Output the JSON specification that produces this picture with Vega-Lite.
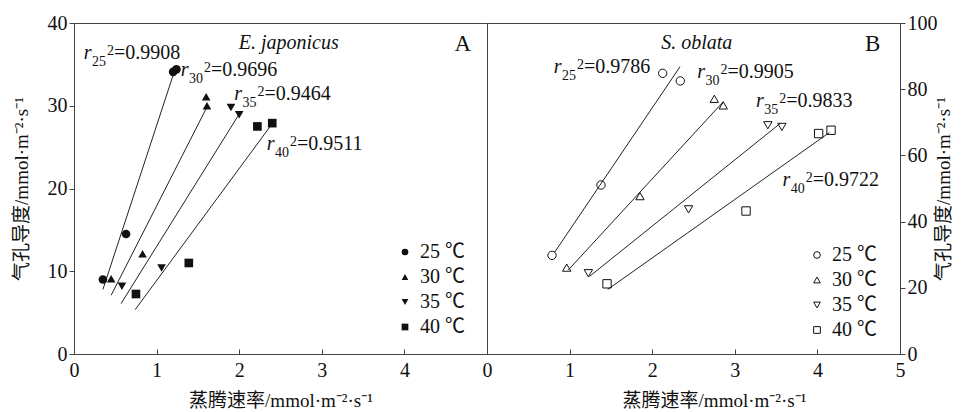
{
  "$schema": "https://vega.github.io/schema/vega-lite/v6.json",
  "padding": {"left": 11, "top": 12, "right": 0, "bottom": 0},
  "spacing": 0,
  "bounds": "flush",
  "datasets": {
    "ptsA": [
      {"t": "25 ℃", "x": 0.35, "y": 9.0}, {"t": "25 ℃", "x": 0.63, "y": 14.5}, {"t": "25 ℃", "x": 1.20, "y": 34.1}, {"t": "25 ℃", "x": 1.24, "y": 34.4},
      {"t": "30 ℃", "x": 0.45, "y": 9.1}, {"t": "30 ℃", "x": 0.83, "y": 12.1}, {"t": "30 ℃", "x": 1.60, "y": 31.1}, {"t": "30 ℃", "x": 1.61, "y": 30.0},
      {"t": "35 ℃", "x": 0.58, "y": 8.2}, {"t": "35 ℃", "x": 1.06, "y": 10.4}, {"t": "35 ℃", "x": 1.90, "y": 29.8}, {"t": "35 ℃", "x": 2.00, "y": 28.9},
      {"t": "40 ℃", "x": 0.75, "y": 7.25}, {"t": "40 ℃", "x": 1.39, "y": 11.0}, {"t": "40 ℃", "x": 2.22, "y": 27.5}, {"t": "40 ℃", "x": 2.40, "y": 27.9}
    ],
    "lnA": [
      {"t": "25 ℃", "x": 0.35, "y": 7.8}, {"t": "25 ℃", "x": 1.21, "y": 34.0},
      {"t": "30 ℃", "x": 0.45, "y": 7.1}, {"t": "30 ℃", "x": 1.61, "y": 29.85},
      {"t": "35 ℃", "x": 0.57, "y": 6.1}, {"t": "35 ℃", "x": 2.0, "y": 29.0},
      {"t": "40 ℃", "x": 0.74, "y": 5.35}, {"t": "40 ℃", "x": 2.39, "y": 27.7}
    ],
    "annA": [
      {"x": 0.212, "y": 35.7, "sub": "25", "val": "=0.9908"},
      {"x": 1.386, "y": 33.6, "sub": "30", "val": "=0.9696"},
      {"x": 2.034, "y": 30.7, "sub": "35", "val": "=0.9464"},
      {"x": 2.427, "y": 24.65, "sub": "40", "val": "=0.9511"}
    ],
    "spA": [{"x": 2.60, "y": 36.86, "txt": "E. japonicus"}],
    "letA": [{"x": 4.706, "y": 36.6, "txt": "A"}],
    "ptsB": [
      {"t": "25 ℃", "x": 0.787, "y": 29.8}, {"t": "25 ℃", "x": 1.38, "y": 51.06}, {"t": "25 ℃", "x": 2.127, "y": 84.8}, {"t": "25 ℃", "x": 2.34, "y": 82.5},
      {"t": "30 ℃", "x": 0.965, "y": 26.1}, {"t": "30 ℃", "x": 1.852, "y": 47.7}, {"t": "30 ℃", "x": 2.752, "y": 77.1}, {"t": "30 ℃", "x": 2.86, "y": 75.1},
      {"t": "35 ℃", "x": 1.227, "y": 24.4}, {"t": "35 ℃", "x": 2.44, "y": 43.7}, {"t": "35 ℃", "x": 3.40, "y": 69.1}, {"t": "35 ℃", "x": 3.57, "y": 68.6},
      {"t": "40 ℃", "x": 1.453, "y": 21.2}, {"t": "40 ℃", "x": 3.136, "y": 43.2}, {"t": "40 ℃", "x": 4.015, "y": 66.6}, {"t": "40 ℃", "x": 4.165, "y": 67.6}
    ],
    "lnB": [
      {"t": "25 ℃", "x": 0.815, "y": 30.6}, {"t": "25 ℃", "x": 2.337, "y": 86.8},
      {"t": "30 ℃", "x": 0.985, "y": 25.4}, {"t": "30 ℃", "x": 2.86, "y": 76.2},
      {"t": "35 ℃", "x": 1.239, "y": 23.4}, {"t": "35 ℃", "x": 3.547, "y": 69.6},
      {"t": "40 ℃", "x": 1.461, "y": 19.5}, {"t": "40 ℃", "x": 4.145, "y": 66.9}
    ],
    "annB": [
      {"x": 0.902, "y": 85.0, "sub": "25", "val": "=0.9786"},
      {"x": 2.64, "y": 83.5, "sub": "30", "val": "=0.9905"},
      {"x": 3.35, "y": 74.6, "sub": "35", "val": "=0.9833"},
      {"x": 3.672, "y": 50.76, "sub": "40", "val": "=0.9722"}
    ],
    "spB": [{"x": 2.54, "y": 92.1, "txt": "S. oblata"}],
    "letB": [{"x": 4.67, "y": 91.5, "txt": "B"}]
  },
  "resolve": {
    "scale": {"x": "independent", "y": "independent", "shape": "independent"},
    "axis": {"x": "independent", "y": "independent"},
    "legend": {"shape": "independent"}
  },
  "hconcat": [
    {
      "width": 413,
      "height": 331,
      "encoding": {
        "x": {"field": "x", "type": "quantitative", "scale": {"domain": [0, 5], "nice": false, "zero": false},
          "axis": {"values": [0, 1, 2, 3, 4], "tickSize": -5, "labelPadding": 11, "title": "蒸腾速率/mmol·m⁻²·s⁻¹", "titlePadding": 11}},
        "y": {"field": "y", "type": "quantitative", "scale": {"domain": [0, 40], "nice": false, "zero": false},
          "axis": {"values": [0, 10, 20, 30, 40], "tickSize": 5, "labelPadding": 2, "title": "气孔导度/mmol·m⁻²·s⁻¹", "titlePadding": 16}}
      },
      "layer": [
        {"data": {"name": "lnA"}, "mark": {"type": "line", "color": "#222", "strokeWidth": 1}, "encoding": {"detail": {"field": "t"}}},
        {"data": {"name": "ptsA"}, "mark": {"type": "point", "filled": true, "color": "#111", "opacity": 1, "size": 75},
          "encoding": {"shape": {"field": "t", "type": "nominal",
            "scale": {"domain": ["25 ℃", "30 ℃", "35 ℃", "40 ℃"], "range": ["circle", "triangle-up", "triangle-down", "square"]},
            "legend": {"title": null, "orient": "none", "legendX": 321, "legendY": 219, "symbolSize": 45, "symbolFillColor": "#111", "symbolStrokeColor": "#111", "labelFontSize": 20, "labelOffset": 5, "rowPadding": 5, "padding": 0}}}},
        {"data": {"name": "annA"}, "mark": {"type": "text", "text": "r", "fontStyle": "italic", "align": "right", "baseline": "alphabetic", "fontSize": 20, "color": "#111"}},
        {"data": {"name": "annA"}, "mark": {"type": "text", "align": "left", "baseline": "alphabetic", "fontSize": 14, "dx": 0.5, "dy": 7, "color": "#111"}, "encoding": {"text": {"field": "sub"}}},
        {"data": {"name": "annA"}, "mark": {"type": "text", "text": "2", "align": "left", "baseline": "alphabetic", "fontSize": 14, "dx": 15.5, "dy": -4, "color": "#111"}},
        {"data": {"name": "annA"}, "mark": {"type": "text", "align": "left", "baseline": "alphabetic", "fontSize": 20, "dx": 22.5, "color": "#111"}, "encoding": {"text": {"field": "val"}}},
        {"data": {"name": "spA"}, "mark": {"type": "text", "fontStyle": "italic", "align": "center", "baseline": "alphabetic", "fontSize": 20, "color": "#111"}, "encoding": {"text": {"field": "txt"}}},
        {"data": {"name": "letA"}, "mark": {"type": "text", "align": "center", "baseline": "alphabetic", "fontSize": 23, "color": "#111"}, "encoding": {"text": {"field": "txt"}}}
      ]
    },
    {
      "width": 413,
      "height": 331,
      "encoding": {
        "x": {"field": "x", "type": "quantitative", "scale": {"domain": [0, 5], "nice": false, "zero": false},
          "axis": {"values": [0, 1, 2, 3, 4, 5], "tickSize": -5, "labelPadding": 11, "title": "蒸腾速率/mmol·m⁻²·s⁻¹", "titlePadding": 11, "titleX": 227}},
        "y": {"field": "y", "type": "quantitative", "scale": {"domain": [0, 100], "nice": false, "zero": false},
          "axis": {"orient": "right", "values": [0, 20, 40, 60, 80, 100], "tickSize": 5, "labelPadding": 2, "title": "气孔导度/mmol·m⁻²·s⁻¹", "titleAngle": 270, "titlePadding": 16}}
      },
      "layer": [
        {"data": {"name": "lnB"}, "mark": {"type": "line", "color": "#222", "strokeWidth": 1}, "encoding": {"detail": {"field": "t"}}},
        {"data": {"name": "ptsB"}, "mark": {"type": "point", "filled": false, "color": "#111", "opacity": 1, "size": 70, "strokeWidth": 1},
          "encoding": {"shape": {"field": "t", "type": "nominal",
            "scale": {"domain": ["25 ℃", "30 ℃", "35 ℃", "40 ℃"], "range": ["circle", "triangle-up", "triangle-down", "square"]},
            "legend": {"title": null, "orient": "none", "legendX": 320, "legendY": 222, "symbolSize": 45, "symbolStrokeColor": "#111", "symbolFillColor": "transparent", "symbolStrokeWidth": 1, "labelFontSize": 20, "labelOffset": 5, "rowPadding": 5, "padding": 0}}}},
        {"data": {"name": "annB"}, "mark": {"type": "text", "text": "r", "fontStyle": "italic", "align": "right", "baseline": "alphabetic", "fontSize": 20, "color": "#111"}},
        {"data": {"name": "annB"}, "mark": {"type": "text", "align": "left", "baseline": "alphabetic", "fontSize": 14, "dx": 0.5, "dy": 7, "color": "#111"}, "encoding": {"text": {"field": "sub"}}},
        {"data": {"name": "annB"}, "mark": {"type": "text", "text": "2", "align": "left", "baseline": "alphabetic", "fontSize": 14, "dx": 15.5, "dy": -4, "color": "#111"}},
        {"data": {"name": "annB"}, "mark": {"type": "text", "align": "left", "baseline": "alphabetic", "fontSize": 20, "dx": 22.5, "color": "#111"}, "encoding": {"text": {"field": "val"}}},
        {"data": {"name": "spB"}, "mark": {"type": "text", "fontStyle": "italic", "align": "center", "baseline": "alphabetic", "fontSize": 20, "color": "#111"}, "encoding": {"text": {"field": "txt"}}},
        {"data": {"name": "letB"}, "mark": {"type": "text", "align": "center", "baseline": "alphabetic", "fontSize": 23, "color": "#111"}, "encoding": {"text": {"field": "txt"}}}
      ]
    }
  ],
  "config": {
    "font": "Liberation Serif, Noto Sans CJK SC",
    "background": "white",
    "view": {"stroke": "#444", "strokeWidth": 1},
    "axis": {"grid": false, "domainColor": "#444", "tickColor": "#444", "labelColor": "#111", "titleColor": "#111",
      "labelFont": "Liberation Serif", "titleFont": "Liberation Serif, Noto Sans CJK SC", "labelFontSize": 20, "titleFontSize": 19,
      "titleFontWeight": "normal", "labelFlush": false, "labelOverlap": false},
    "legend": {"labelFont": "Liberation Serif, Noto Sans CJK SC", "labelColor": "#111"}
  }
}
